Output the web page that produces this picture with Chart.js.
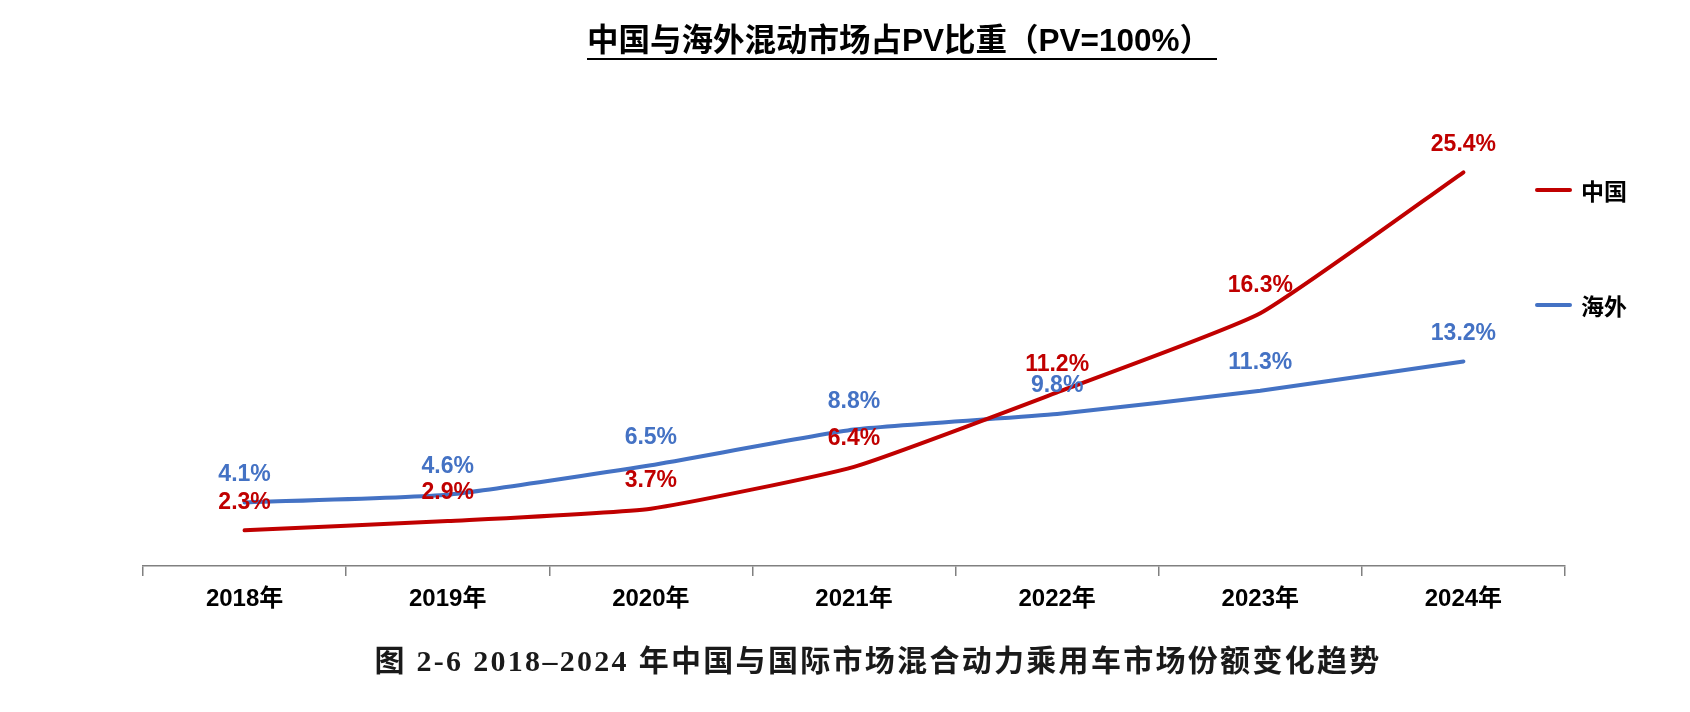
<!DOCTYPE html>
<html>
<head>
<meta charset="utf-8">
<script src="https://cdn.jsdelivr.net/npm/chart.js@4/dist/chart.umd.min.js"></script>
<style>
  html, body { margin: 0; padding: 0; background: #fff; }
  #wrap { position: relative; width: 1690px; height: 712px; overflow: hidden; }
  #chart { position: absolute; left: 0; top: 0; }
  .title {
    position: absolute; left: 587px; top: 22px;
    font: bold 31.5px "Liberation Sans", "Noto Sans CJK SC", sans-serif;
    color: #000; white-space: nowrap;
    border-bottom: 2px solid #000; padding-right: 6px; line-height: 36px;
  }
  .legend-item { position: absolute; left: 1535px; height: 30px; display: flex; align-items: center; }
  .legend-item .swatch { width: 37px; height: 4px; border-radius: 2px; margin-right: 9px; }
  .legend-item span { font: bold 23px "Liberation Sans", "Noto Sans CJK SC", sans-serif; color: #000; }
  .caption {
    position: absolute; left: 0; width: 1756px; top: 636px; text-align: center;
    font: bold 30px "Liberation Serif", "Noto Sans CJK SC", serif;
    letter-spacing: 2.3px; color: #1a1a1a; white-space: nowrap;
  }
</style>
</head>
<body>
<div id="wrap">
  <canvas id="chart" width="1690" height="712"></canvas>
  <div class="title">中国与海外混动市场占PV比重（PV=100%）</div>
  <div class="legend-item" style="top:175px"><div class="swatch" style="background:#C00000"></div><span>中国</span></div>
  <div class="legend-item" style="top:290px"><div class="swatch" style="background:#4472C4"></div><span>海外</span></div>
  <div class="caption">图 2-6 2018–2024 年中国与国际市场混合动力乘用车市场份额变化趋势</div>
</div>
<script>
/* ── data ── */
const years = ['2018年', '2019年', '2020年', '2021年', '2022年', '2023年', '2024年'];
const chinaShare = [2.3, 2.9, 3.7, 6.4, 11.2, 16.3, 25.4];
const overseasShare = [4.1, 4.6, 6.5, 8.8, 9.8, 11.3, 13.2];

const RED = '#C00000';
const BLUE = '#4472C4';

/* value labels above each point */
const pointLabels = {
  id: 'pointLabels',
  afterDatasetsDraw(chart) {
    const ctx = chart.ctx;
    ctx.save();
    ctx.font = 'bold 23px "Liberation Sans", Arial, sans-serif';
    ctx.textAlign = 'center';
    ctx.textBaseline = 'middle';
    chart.data.datasets.forEach((ds, i) => {
      const meta = chart.getDatasetMeta(i);
      ctx.fillStyle = ds.borderColor;
      meta.data.forEach((pt, j) => {
        ctx.fillText(ds.data[j].toFixed(1) + '%', pt.x, pt.y - 28);
      });
    });
    ctx.restore();
  }
};

new Chart(document.getElementById('chart'), {
  type: 'line',
  data: {
    labels: years,
    datasets: [
      { label: '中国', data: chinaShare, borderColor: RED, borderWidth: 4, pointRadius: 0, tension: 0.15, borderCapStyle: 'round' },
      { label: '海外', data: overseasShare, borderColor: BLUE, borderWidth: 4, pointRadius: 0, tension: 0.15, borderCapStyle: 'round' },
    ],
  },
  options: {
    responsive: false,
    devicePixelRatio: 1,
    animation: false,
    layout: { padding: { left: 143, right: 125, top: 101, bottom: 86 } },
    plugins: { legend: { display: false }, tooltip: { enabled: false } },
    scales: {
      x: {
        offset: true,
        afterFit(scale) { scale.height = 60; },
        border: { display: true, color: '#808080', width: 1.5 },
        grid: { offset: true, drawOnChartArea: false, drawTicks: true, tickLength: 10, color: '#808080', lineWidth: 1.5 },
        ticks: { color: '#000', padding: 9, font: { family: '"Liberation Sans", "Noto Sans CJK SC", sans-serif', size: 24, weight: 'bold' } },
      },
      y: { display: false, min: 0, max: 30 },
    },
  },
  plugins: [pointLabels],
});
</script>
</body>
</html>
